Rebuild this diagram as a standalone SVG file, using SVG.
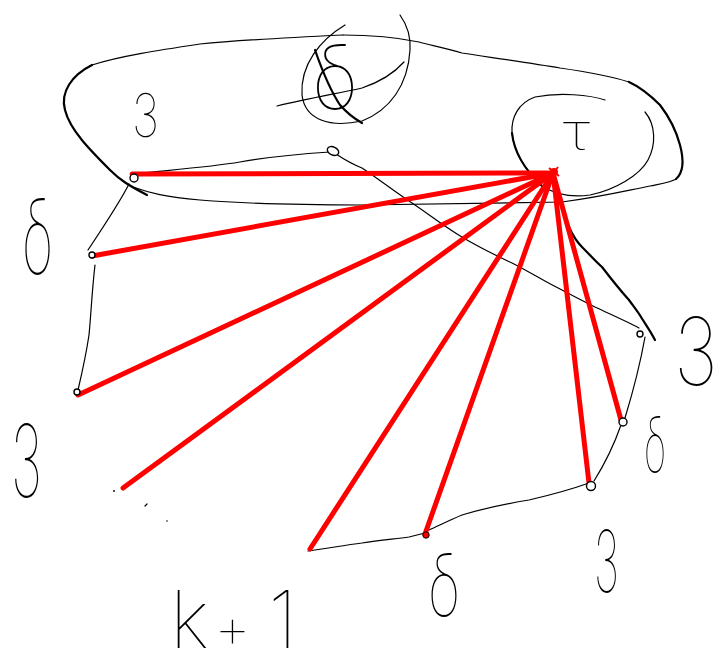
<svg xmlns="http://www.w3.org/2000/svg" width="724" height="653" viewBox="0 0 724 653">
<style>
.thin{fill:none;stroke:#000;stroke-width:1.2;stroke-linecap:round;stroke-linejoin:round}
.thick{fill:none;stroke:#000;stroke-width:2.2;stroke-linecap:round;stroke-linejoin:round}
.red{fill:none;stroke:#ff0000;stroke-width:5;stroke-linecap:round}
.node{fill:#fff;stroke:#000;stroke-width:1.4}
.lbl{font-family:Inter,"DejaVu Sans",sans-serif;font-weight:100;fill:#000}
</style>
<rect width="724" height="653" fill="#fff"/>
<g id="blob">
<path class="thin" d="M 343,35 C 280,38 240,40 200,44 C 160,50 120,56 92,65"/>
<path class="thick" d="M 92,65 C 72,75 60,92 65,110 C 70,130 90,150 110,170 C 120,180 128,185 147,195"/>
<path class="thin" d="M 133,187 C 150,193 165,197 200,200 C 260,205 320,205 362,205 C 450,204 520,203 562,202 C 600,197 620,192 650,186 C 665,183 672,182 676,179"/>
<path class="thick" d="M 676,179 C 684,172 684,160 680,145 C 676,130 670,118 660,105 C 650,95 640,87 629,82"/>
<path class="thin" d="M 629,82 C 610,76 595,73 560,68 C 530,63 495,58 462,53 C 445,48 430,45 419,42 C 400,38 380,35 343,35"/>
</g>
<g id="crossed">
<path class="thin" d="M 345,25 C 320,40 300,65 302,95 C 305,120 330,128 362,121 C 390,110 408,85 410,50 C 411,35 405,22 400,15"/>
<text class="lbl" x="312" y="110" font-size="90" textLength="46" lengthAdjust="spacingAndGlyphs">δ</text>
<path class="thin" d="M 277,106 C 310,98 340,93 362,88 C 380,82 395,72 404,62"/>
<path class="thick" d="M 315,50 C 322,70 330,90 340,105 C 347,113 355,119 362,123"/>
</g>
<g id="tau-circle">
<path class="thin" d="M 605,100 C 590,95 560,92 535,97 C 518,103 511,118 512,133 C 514,152 525,170 542,186 C 555,194 570,198 590,195 C 615,190 640,175 648,160 C 656,145 656,125 645,112"/>
<path class="thick" d="M 512,133 C 514,152 525,170 542,186"/>
<text class="lbl" x="563" y="150" font-size="50" textLength="27" lengthAdjust="spacingAndGlyphs">τ</text>
</g>
<g id="connectors">
<path class="thin" d="M 330,152 C 300,154 267,157 240,162 C 210,167 170,170 133,174"/>
<path class="thin" d="M 129,184 C 122,198 110,217 88,250"/>
<path class="thin" d="M 95,265 C 92,290 91,315 89,335 C 86,355 82,373 78,390"/>
<path class="thin" d="M 308,551 C 330,548 345,545 362,543 C 380,540 395,539 409,537 L 425,533"/>
<path class="thin" d="M 429,530 C 440,525 450,520 462,515 C 485,508 505,504 529,500 C 555,494 575,488 589,483"/>
<path class="thin" d="M 594,481 C 604,465 614,445 621,425"/>
<path class="thin" d="M 625,418 C 632,395 640,365 645,337"/>
<path class="thin" d="M 336,154 C 345,160 352,164 362,168 C 380,180 395,192 412,203 C 430,215 445,227 462,237 C 480,248 495,255 512,263 C 530,272 545,282 562,290 C 575,297 585,302 595,307 C 612,315 628,322 639,328"/>
<path class="thick" d="M 557,190 C 560,200 563,215 569,227 C 573,236 577,242 582,247 C 590,255 596,262 602,267 C 612,280 620,290 629,300 C 634,307 638,312 641,317 C 646,325 651,332 655,340"/>
<path class="red" d="M 553,173 L 132,174"/>
<path class="red" d="M 553,173 L 92,256"/>
<path class="red" d="M 553,173 L 78,395"/>
<path class="red" d="M 553,173 L 123,488"/>
<path class="red" d="M 553,173 L 310,549"/>
<path class="red" d="M 553,173 L 425,534"/>
<path class="red" d="M 553,173 L 589,483"/>
<path class="red" d="M 553,173 L 621,420"/>
<circle cx="114" cy="491" r="0.9" fill="#000"/>
<path class="thin" d="M 145,506 L 147,504"/>
<circle cx="167" cy="521" r="0.8" fill="#000"/>
</g>
<g id="hub"><circle cx="554" cy="172" r="4" fill="#ff0000"/><path d="M 549,168 L 559,176 M 551,176 L 558,167" stroke="#ff0000" stroke-width="2"/></g>
<g id="nA"><circle class="node" cx="134" cy="178" r="4"/></g>
<g id="nB"><circle class="node" cx="92" cy="255" r="3"/></g>
<g id="nC"><circle class="node" cx="77" cy="392" r="3"/></g>
<g id="nF"><circle cx="426" cy="535" r="3.2" fill="#ff0000" stroke="#000" stroke-width="1"/></g>
<g id="nG"><circle class="node" cx="591" cy="486" r="4.5"/></g>
<g id="nH"><circle class="node" cx="623" cy="422" r="4"/></g>
<g id="nI"><circle class="node" cx="640" cy="334" r="3"/></g>
<g id="nJ"><ellipse class="node" cx="333" cy="151" rx="6" ry="4" transform="rotate(25 333 151)"/></g>
<g id="labels">
<text class="lbl" x="132" y="137" font-size="60" textLength="27" lengthAdjust="spacingAndGlyphs">3</text>
<text class="lbl" x="22" y="274" font-size="104" textLength="31" lengthAdjust="spacingAndGlyphs">δ</text>
<text class="lbl" x="11" y="497" font-size="100" textLength="31" lengthAdjust="spacingAndGlyphs">3</text>
<text class="lbl" font-size="94" transform="translate(674 385) scale(0.8 1)">3</text>
<text class="lbl" x="644" y="473" font-size="78" textLength="22" lengthAdjust="spacingAndGlyphs">δ</text>
<text class="lbl" x="594" y="592" font-size="86" textLength="25" lengthAdjust="spacingAndGlyphs">3</text>
<text class="lbl" x="428" y="617" font-size="88" textLength="32" lengthAdjust="spacingAndGlyphs">δ</text>
<text class="lbl" y="648"><tspan x="170" font-size="80">k</tspan><tspan x="214" font-size="58">+</tspan><tspan x="268" font-size="80">1</tspan></text>
</g>
</svg>
